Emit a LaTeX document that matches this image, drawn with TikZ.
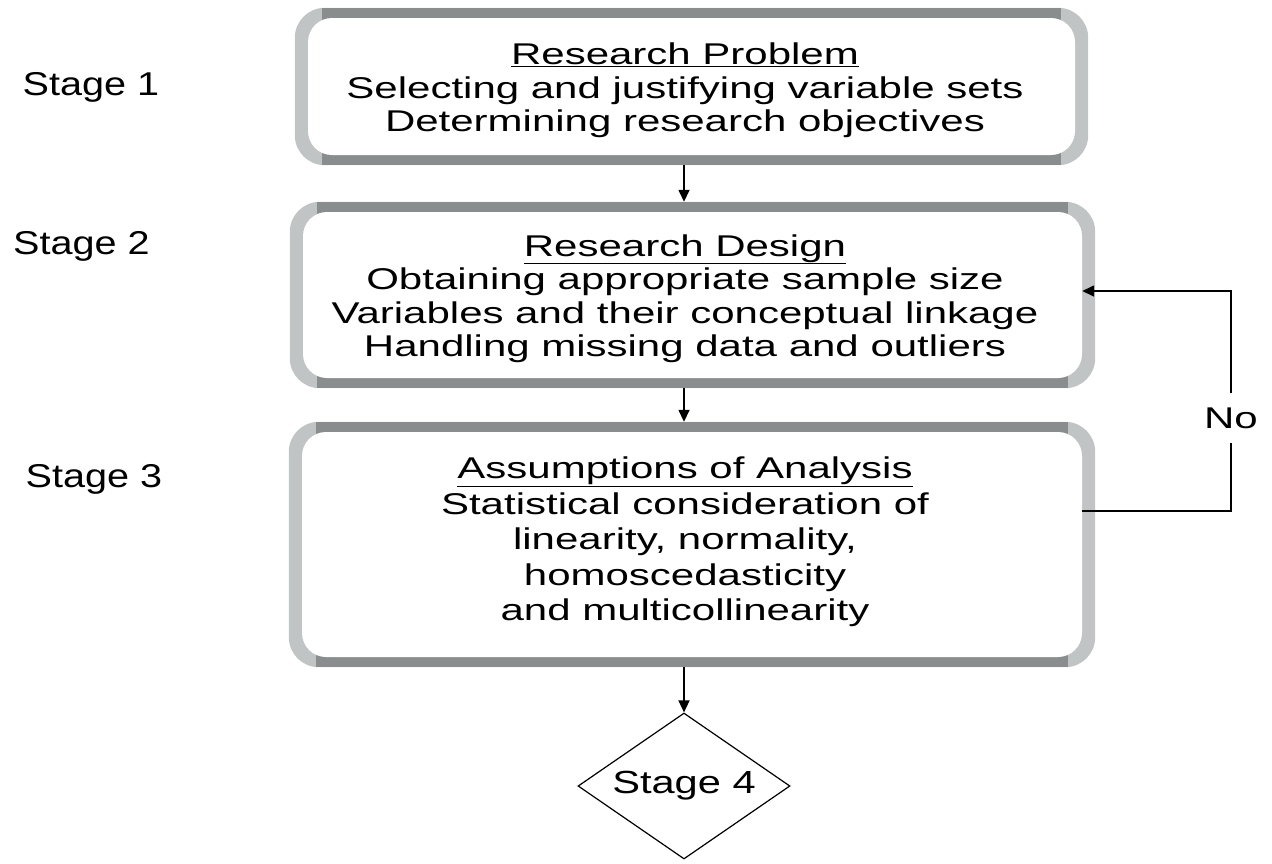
\documentclass[tikz,border=0pt]{standalone}
\usepackage{fontspec}
\setmainfont{Liberation Sans}
\newfontfamily\boxfont{Liberation Sans}[FakeStretch=1.4]
\newfontfamily\stagefont{Liberation Sans}[FakeStretch=1.2]
\newfontfamily\diafont{Liberation Sans}[FakeStretch=1.3]
\usetikzlibrary{arrows.meta,shapes.geometric,backgrounds}
\definecolor{framedark}{HTML}{8A8D8D}
\definecolor{framelight}{HTML}{C0C4C4}
\tikzset{
  inbox/.style={draw=none, fill=white, rounded corners=24pt, inner sep=0pt},
  boxtext/.style={align=center, font=\boxfont\fontsize{30}{33.5}\selectfont, inner sep=0pt},
  stagelabel/.style={font=\stagefont\fontsize{33}{36}\selectfont, inner sep=0pt},
  arr/.style={line width=1.5pt, -{Triangle[length=12pt,width=11pt]}},
  fbline/.style={line width=1.5pt},
}
\newcommand\drawframe[1]{%
  \fill[framelight, rounded corners=30pt] ([shift={(-13pt,10pt)}]#1.north west) rectangle ([shift={(13pt,-10pt)}]#1.south east);
  \begin{scope}
    \clip[rounded corners=30pt] ([shift={(-13pt,10pt)}]#1.north west) rectangle ([shift={(13pt,-10pt)}]#1.south east);
    \fill[framedark] ([shift={(14pt,10pt)}]#1.north west) rectangle ([shift={(-14pt,-10pt)}]#1.south east);
  \end{scope}
}
\begin{document}
\begin{tikzpicture}[x=1pt,y=-1pt]
\useasboundingbox (0,0) rectangle (1272,863);

\node[inbox, minimum width=767pt, minimum height=137pt] (b1) at (691.5,86.5) {};
\node[inbox, minimum width=779pt, minimum height=166pt] (b2) at (692.5,295) {};
\node[inbox, minimum width=780pt, minimum height=225pt] (b3) at (692,544.5) {};

\begin{scope}[on background layer]
  \drawframe{b1}
  \drawframe{b2}
  \drawframe{b3}
\end{scope}

\node[boxtext] (t1) at (685,90.5) {\underline{Research Problem}\\Selecting and justifying variable sets\\Determining research objectives};
\node[boxtext] (t2) at (685,298.5) {\underline{Research Design}\\Obtaining appropriate sample size\\Variables and their conceptual linkage\\Handling missing data and outliers};
\node[boxtext, font=\boxfont\fontsize{30}{35.5}\selectfont] (t3) at (685,542) {\underline{Assumptions of Analysis}\\Statistical consideration of\\linearity, normality,\\homoscedasticity\\and multicollinearity};

\node[diamond, aspect=1.43, draw, line width=1.2pt, minimum width=212pt, minimum height=146pt, inner sep=0pt, font=\diafont\fontsize{32}{35}\selectfont] (d) at (684,786) {Stage 4};

\node[stagelabel] (s1) at (91,87.5) {Stage 1};
\node[stagelabel] (s2) at (81.5,246.5) {Stage 2};
\node[stagelabel] (s3) at (94,479) {Stage 3};

\draw[arr, shorten <=10pt, shorten >=10pt] (b1.south -| d.north) -- (b2.north -| d.north);
\draw[arr, shorten <=10pt, shorten >=10pt] (b2.south -| d.north) -- (b3.north -| d.north);
\draw[arr, shorten <=10pt] (b3.south -| d.north) -- (d.north);

\node[font=\boxfont\fontsize{30}{34}\selectfont, inner xsep=2pt, inner ysep=14pt] (no) at (1231,418) {No};
\draw[fbline] ([yshift=33.5pt]b3.east) -| (no.south);
\draw[arr] (no.north) |- ([yshift=4pt]b2.east);
\end{tikzpicture}
\end{document}
